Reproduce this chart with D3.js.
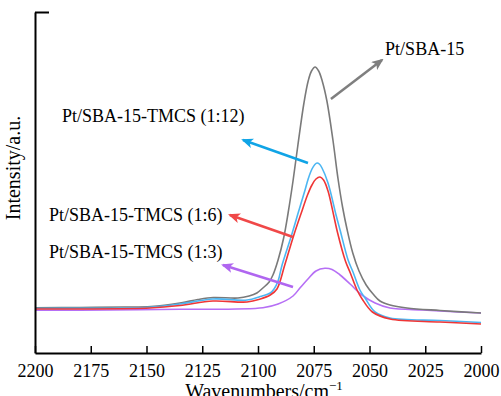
<!DOCTYPE html>
<html>
<head>
<meta charset="utf-8">
<script src="https://cdn.jsdelivr.net/npm/d3@7"></script>
<style>
  body { margin: 0; background: #fff; }
  svg { display: block; }
  svg text { font-family: "Liberation Serif", Tinos, "Times New Roman", "DejaVu Serif", serif; }
</style>
</head>
<body>
<svg id="chart" width="501" height="396"></svg>
<script>
// spectra: [wavenumber (cm^-1), intensity (a.u.)]
const graySeries = [
  [2200, 45.3], [2180, 45.5], [2160, 46], [2148, 46.5], [2135, 50], [2127, 53.5],
  [2120, 55.5], [2109, 55], [2104, 57], [2100.5, 60], [2097.8, 65], [2095, 71], [2093.3, 78],
  [2091, 93], [2088.5, 115], [2086.5, 140], [2084.3, 172], [2082.1, 208], [2079.4, 250],
  [2077.5, 272], [2076, 282], [2074.4, 286], [2072.8, 282], [2071.2, 272], [2069.1, 252],
  [2066.4, 213], [2064.1, 174], [2062, 145], [2060.1, 124], [2057.5, 100], [2054.7, 82],
  [2051.5, 68], [2048.4, 59], [2045.3, 52], [2040.8, 48], [2033.2, 45], [2018.4, 42.5], [2000, 40]
]
const blueSeries = [
  [2200, 44.5], [2180, 44.7], [2148.4, 45.8], [2135, 49], [2120.2, 54], [2104.9, 53],
  [2099, 56.5], [2094.5, 60], [2092.8, 64], [2091, 72], [2089.2, 88], [2085.2, 116], [2081.6, 143],
  [2078.9, 163], [2077.5, 174], [2075.8, 184], [2074.5, 188.5], [2073.5, 190], [2072.5, 189],
  [2071.3, 185], [2068.6, 170], [2065, 138], [2063.2, 123], [2059.6, 93], [2057.4, 81],
  [2054.3, 63], [2052, 55], [2047.5, 41], [2040.8, 35], [2018.4, 32.5], [2000, 30.5]
]
const redSeries = [
  [2200, 44], [2180, 44], [2148.4, 45], [2135, 47.5], [2120.2, 52], [2104.9, 51],
  [2099, 54], [2094.5, 58], [2091.5, 64], [2088, 88], [2084.2, 116], [2080.6, 140],
  [2077.8, 158], [2075.8, 168], [2074, 174], [2072.2, 176], [2070.6, 173], [2068.6, 162],
  [2066, 137], [2064.4, 121], [2060.8, 92], [2058.6, 80], [2055.6, 63], [2053.3, 54],
  [2048.7, 41], [2040.8, 34], [2018.4, 31], [2000, 29]
]
const purpleSeries = [
  [2200, 42.7], [2180, 42.8], [2135, 43.7], [2097.8, 45.3], [2091, 49], [2084.3, 57],
  [2081.2, 65], [2077.6, 74], [2074, 82], [2070, 84.7], [2066.8, 83.5], [2063.2, 78],
  [2058.7, 69], [2053.4, 58], [2047.5, 50], [2040.8, 45], [2026, 43], [2018.4, 42], [2000, 40]
]

const xTicks = [2200, 2175, 2150, 2125, 2100, 2075, 2050, 2025, 2000]

// label + arrow annotations, in data coordinates
const labels = ['Pt/SBA-15', 'Pt/SBA-15-TMCS (1:12)', 'Pt/SBA-15-TMCS (1:6)', 'Pt/SBA-15-TMCS (1:3)']
const labelAt = [[2043, 298], [2187.9, 231.5], [2193.7, 132.5], [2193.7, 95]]
const arrowFrom = [[2067.3, 254], [2077.6, 190], [2084.3, 116], [2084.3, 66]]
const arrowTo = [[2044.4, 293], [2106.7, 213], [2112.6, 138], [2115.7, 88]]

const lineColors = ['#7a7a7a', '#4cb6f2', '#ef3636', '#b66ff5']
const arrowColors = ['#7f7f7f', '#10a4e6', '#f04848', '#b066f0']

const margin = { top: 12, right: 20, bottom: 43, left: 35 }
const width = 501 - margin.left - margin.right
const height = 396 - margin.top - margin.bottom

const svg = d3.select('#chart')
const g = svg.append('g')
  .attr('transform', `translate(${margin.left},${margin.top})`)

const x = d3.scaleLinear().domain([2200, 2000]).range([0, width])
const y = d3.scaleLinear().domain([0, 341]).range([height, 0])

const line = d3.line()
  .x((d) => x(d[0]))
  .y((d) => y(d[1]))
  .curve(d3.curveCatmullRom.alpha(0.5))

const series = [graySeries, blueSeries, redSeries, purpleSeries]
// purple underneath, then gray, blue, red
const order = [3, 0, 1, 2]
order.forEach((i) => {
  g.append('path')
    .datum(series[i])
    .attr('fill', 'none')
    .attr('stroke', lineColors[i])
    .attr('stroke-width', 1.6)
    .attr('d', line)
})

// axes
const xAxis = g.append('g')
  .attr('transform', `translate(0,${height})`)
  .call(d3.axisBottom(x).tickValues(xTicks).tickSizeInner(-7).tickSizeOuter(0).tickPadding(11).tickFormat(d3.format('d')))
xAxis.attr('font-family', null)
xAxis.select('.domain').attr('stroke', '#000').attr('stroke-width', 2)
xAxis.selectAll('.tick line').attr('stroke', '#000').attr('stroke-width', 1.5)
xAxis.selectAll('.tick text')
  .attr('font-size', 18)
  .attr('fill', '#000')

const yAxis = g.append('g')
  .call(d3.axisLeft(y).tickValues([341]).tickSizeInner(-14).tickSizeOuter(0).tickFormat(''))
yAxis.select('.domain').attr('stroke', '#000').attr('stroke-width', 2)
yAxis.selectAll('.tick line').attr('stroke', '#000').attr('stroke-width', 2)

// axis titles
svg.append('text')
  .attr('transform', `translate(20,${margin.top + y(185)}) rotate(-90)`)
  .attr('text-anchor', 'middle')
  .attr('font-size', 20)
  .text('Intensity/a.u.')

const xt = svg.append('text')
  .attr('x', margin.left + x(2100) + 6)
  .attr('y', 398)
  .attr('text-anchor', 'middle')
  .attr('font-size', 20)
xt.append('tspan').text('Wavenumbers/cm')
xt.append('tspan').attr('font-size', 13).attr('dy', -8).text('\u22121')

// arrows
const defs = svg.append('defs')
arrowColors.forEach((c, i) => {
  defs.append('marker')
    .attr('id', `head${i}`)
    .attr('markerUnits', 'userSpaceOnUse')
    .attr('viewBox', '0 0 12 10')
    .attr('refX', 10)
    .attr('refY', 5)
    .attr('markerWidth', 12)
    .attr('markerHeight', 10)
    .attr('orient', 'auto')
    .append('path')
      .attr('d', 'M0,0 L12,5 L0,10 L3,5 Z')
      .attr('fill', c)
})

labels.forEach((t, i) => {
  g.append('line')
    .attr('x1', x(arrowFrom[i][0]))
    .attr('y1', y(arrowFrom[i][1]))
    .attr('x2', x(arrowTo[i][0]))
    .attr('y2', y(arrowTo[i][1]))
    .attr('stroke', arrowColors[i])
    .attr('stroke-width', 2.5)
    .attr('marker-end', `url(#head${i})`)

  g.append('text')
    .attr('x', x(labelAt[i][0]))
    .attr('y', y(labelAt[i][1]))
    .attr('font-size', 18)
    .attr('fill', '#000')
    .text(t)
})
</script>
</body>
</html>
